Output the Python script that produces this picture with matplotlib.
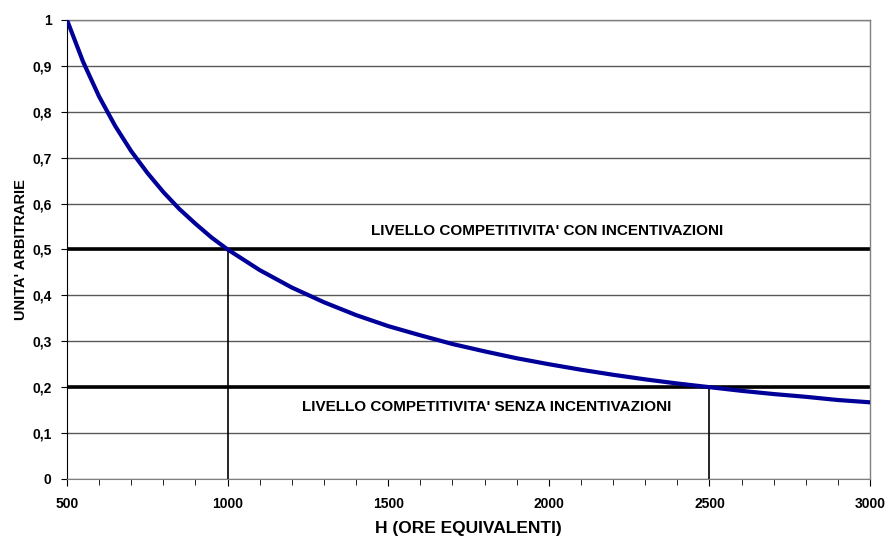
import matplotlib
matplotlib.use("Agg")
import matplotlib.pyplot as plt
from matplotlib.ticker import MultipleLocator, FuncFormatter

# Data
hours = [500, 550, 600, 650, 700, 750, 800, 850, 900, 950, 1000,
         1100, 1200, 1300, 1400, 1500, 1600, 1700, 1800, 1900, 2000,
         2100, 2200, 2300, 2400, 2500, 2600, 2700, 2800, 2900, 3000]
units = [1.000, 0.909, 0.833, 0.769, 0.714, 0.667, 0.625, 0.588, 0.556, 0.526, 0.500,
         0.455, 0.417, 0.385, 0.357, 0.333, 0.313, 0.294, 0.278, 0.263, 0.250,
         0.238, 0.227, 0.217, 0.208, 0.200, 0.192, 0.185, 0.179, 0.172, 0.167]
level_with = 0.5
level_without = 0.2
cross_with = 1000
cross_without = 2500
label_with = "LIVELLO COMPETITIVITA' CON INCENTIVAZIONI"
label_without = "LIVELLO COMPETITIVITA' SENZA INCENTIVAZIONI"

plt.rcParams['font.family'] = ['Liberation Sans', 'DejaVu Sans']
plt.rcParams['font.weight'] = 'bold'

fig = plt.figure(figsize=(8.86, 5.38), dpi=100)
ax = fig.add_axes([0.0756, 0.1097, 0.9064, 0.8533])

ax.set_xlim(500, 3000)
ax.set_ylim(0, 1)

# gridlines
ax.yaxis.set_major_locator(MultipleLocator(0.1))
ax.xaxis.set_major_locator(MultipleLocator(500))
ax.xaxis.set_minor_locator(MultipleLocator(100))
ax.grid(axis='y', color='#5a5a5a', linewidth=1.0, zorder=0)
ax.set_axisbelow(True)

# horizontal levels
ax.axhline(level_with, color='black', linewidth=2.6, zorder=2)
ax.axhline(level_without, color='black', linewidth=2.6, zorder=2)

# vertical droplines
ax.plot([cross_with, cross_with], [0, level_with], color='black', linewidth=1.2, zorder=2)
ax.plot([cross_without, cross_without], [0, level_without], color='black', linewidth=1.2, zorder=2)

# curve
ax.plot(hours, units, color='#000099', linewidth=3.0, solid_capstyle='round',
        solid_joinstyle='round', zorder=3)

ax.text(1994, 0.54, label_with, ha='center', va='center', fontsize=11, fontweight='bold')
ax.text(1808, 0.157, label_without, ha='center', va='center', fontsize=11, fontweight='bold')

for s in ['top', 'right']:
    ax.spines[s].set_color('#808080')
    ax.spines[s].set_linewidth(1.0)
ax.spines['bottom'].set_color('#808080')
ax.spines['left'].set_color('black')

ax.yaxis.set_major_formatter(FuncFormatter(lambda v, p: ('%g' % round(v, 1)).replace('.', ',')))
ax.tick_params(axis='both', which='both', direction='out', color='black', labelsize=10)
ax.tick_params(axis='x', which='major', length=5, pad=8)
ax.tick_params(axis='x', which='minor', length=4)
ax.tick_params(axis='y', which='major', length=4, pad=7)
for lbl in ax.get_xticklabels() + ax.get_yticklabels():
    lbl.set_fontweight('bold')

ax.set_xlabel('H (ORE EQUIVALENTI)', fontsize=12.5, fontweight='bold', labelpad=7)
ax.set_ylabel("UNITA' ARBITRARIE", fontsize=10.5, fontweight='bold', labelpad=3)

fig.savefig('out.png', dpi=100)
